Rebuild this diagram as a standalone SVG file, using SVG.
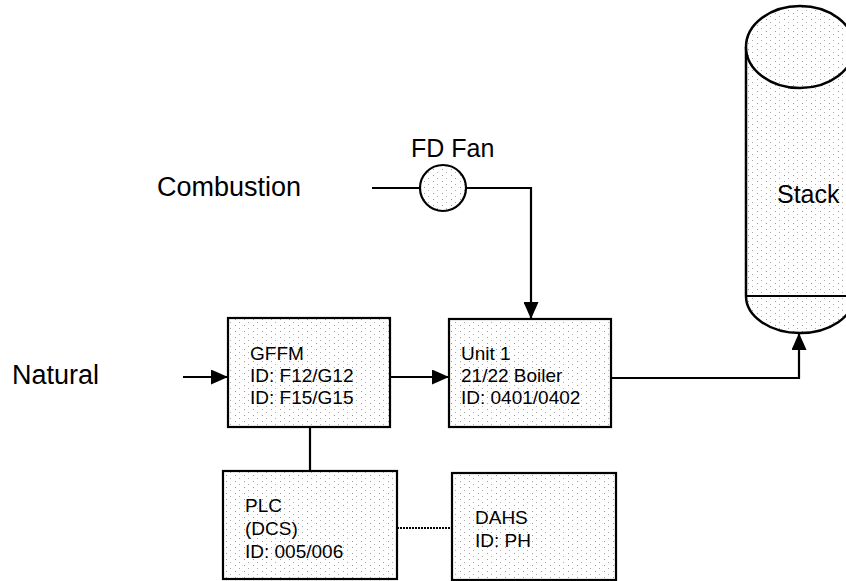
<svg xmlns="http://www.w3.org/2000/svg" width="846" height="581" viewBox="0 0 846 581">
  <style>
    .box { fill: url(#stip); stroke: #000; stroke-width: 2.2; }
    .lbl { font-family: "Liberation Sans", Arial, sans-serif; font-size: 27px; fill: #000; }
    .txt { font-family: "Liberation Sans", Arial, sans-serif; font-size: 19px; fill: #000; }
    .conn { fill: none; stroke: #000; stroke-width: 2.2; }
    .dot { fill: none; stroke: #000; stroke-width: 2; stroke-dasharray: 2 1; }
  </style>
  <defs>
    <pattern id="stip" width="9" height="6" patternUnits="userSpaceOnUse">
      <rect width="9" height="6" fill="#fff"/>
      <rect x="1" y="1" width="1" height="1" fill="#999"/>
      <rect x="5" y="4" width="1" height="1" fill="#aaa"/>
    </pattern>
    <marker id="arr" markerUnits="userSpaceOnUse" markerWidth="17" markerHeight="15" refX="17" refY="7.5" orient="auto">
      <path d="M0,0 L17,7.5 L0,15 Z" fill="#000"/>
    </marker>
  </defs>

  <g id="label-combustion">
    <text class="lbl" x="157" y="196">Combustion</text>
  </g>
  <g id="label-natural">
    <text class="lbl" x="12" y="384">Natural</text>
  </g>

  <g id="fdfan">
    <text class="lbl" x="411" y="157" style="font-size:25px">FD Fan</text>
    <circle cx="443" cy="188" r="23" fill="url(#stip)" stroke="#000" stroke-width="2.2"/>
  </g>

  <g id="stack">
    <path d="M746,47 L746,296 A54,37 0 0 0 854,296 L854,47" fill="url(#stip)" stroke="#000" stroke-width="2.5"/>
    <line x1="746" y1="296" x2="854" y2="296" stroke="#000" stroke-width="2"/>
    <ellipse cx="800" cy="47" rx="54" ry="41" fill="url(#stip)" stroke="#000" stroke-width="2.5"/>
    <text class="lbl" x="777" y="203" style="font-size:25px">Stack</text>
  </g>

  <g id="gffm">
    <rect class="box" x="228" y="318" width="162" height="109"/>
    <text class="txt" x="250" y="360">GFFM</text>
    <text class="txt" x="250" y="382">ID: F12/G12</text>
    <text class="txt" x="250" y="404">ID: F15/G15</text>
  </g>

  <g id="unit1">
    <rect class="box" x="449" y="319" width="162" height="108"/>
    <text class="txt" x="461" y="360">Unit 1</text>
    <text class="txt" x="461" y="382">21/22 Boiler</text>
    <text class="txt" x="461" y="404">ID: 0401/0402</text>
  </g>

  <g id="plc">
    <rect class="box" x="223" y="471" width="174" height="108"/>
    <text class="txt" x="245" y="512">PLC</text>
    <text class="txt" x="245" y="535">(DCS)</text>
    <text class="txt" x="245" y="558">ID: 005/006</text>
  </g>

  <g id="dahs">
    <rect class="box" x="452" y="473" width="164" height="107"/>
    <text class="txt" x="475" y="524">DAHS</text>
    <text class="txt" x="475" y="547">ID: PH</text>
  </g>

  <g id="connectors">
    <line class="conn" x1="372" y1="188" x2="420" y2="188"/>
    <path class="conn" d="M466,188 H531 V319" marker-end="url(#arr)"/>
    <line class="conn" x1="183" y1="377" x2="228" y2="377" marker-end="url(#arr)"/>
    <line class="conn" x1="390" y1="377" x2="449" y2="377" marker-end="url(#arr)"/>
    <path class="conn" d="M611,378 H799 V333" marker-end="url(#arr)"/>
    <line class="conn" x1="310" y1="427" x2="310" y2="471"/>
    <line class="dot" x1="397" y1="528" x2="452" y2="528"/>
  </g>
</svg>
